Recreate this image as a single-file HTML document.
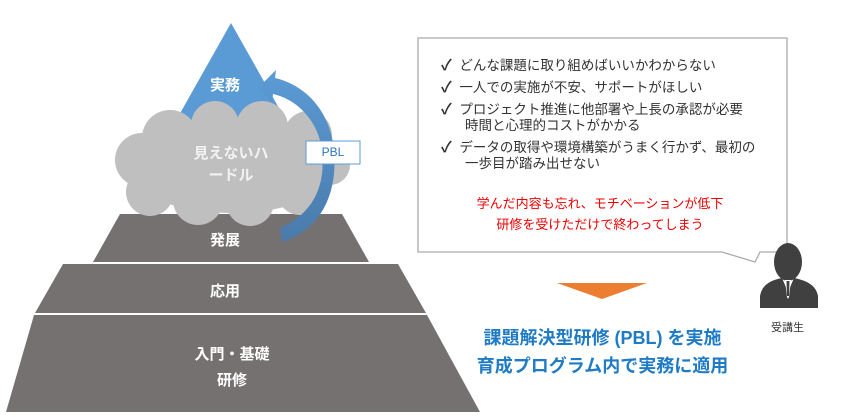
<!DOCTYPE html>
<html><head><meta charset="utf-8"><style>
body{margin:0;width:849px;height:417px;background:#fff;overflow:hidden;position:relative;font-family:"Liberation Sans","Noto Sans CJK JP",sans-serif}
.t{position:absolute;white-space:nowrap}
</style></head><body>
<svg width="849" height="417" style="position:absolute;left:0;top:0">
<defs><linearGradient id="g" x1="0" y1="0" x2="0" y2="1"><stop offset="0" stop-color="#5b9bd5"/><stop offset="1" stop-color="#4a7aab"/></linearGradient></defs>
<polygon points="231,23 165,140 297,140" fill="#5b9bd5"/>
<polygon points="120,214 342,214 369,262 93,262" fill="#767171"/>
<polygon points="63,264 398,264 426,313 35,313" fill="#767171"/>
<polygon points="34,315 427,315 480,412 6,412" fill="#767171"/>
<g fill="#bfbfbf">
<ellipse cx="232" cy="168" rx="105" ry="45"/>
<circle cx="170" cy="138" r="28"/><circle cx="215" cy="125" r="24"/><circle cx="262" cy="127" r="26"/><circle cx="308" cy="135" r="24"/>
<circle cx="142" cy="160" r="27"/><circle cx="150" cy="192" r="24"/><circle cx="198" cy="200" r="25"/><circle cx="250" cy="202" r="24"/><circle cx="300" cy="192" r="23"/><circle cx="330" cy="165" r="20"/>
</g>
<path d="M282,242 C320,230 338,195 334,150 C330,110 305,85 275,78 L276,70 L258,88 L272,102 L273,94 C300,100 320,125 322,152 C326,190 310,215 280,228 Z" fill="url(#g)"/>
<rect x="306" y="141" width="54" height="23" fill="#fff" stroke="#5b9bd5" stroke-width="1"/>
<path d="M418,38 L787,38 L787,252 L760,252 L755,262 L722,252 L418,252 Z" fill="#fff" stroke="#aaa" stroke-width="1.3"/>
<polygon points="557,283 647,283 602,299" fill="#ed7d31"/>
<ellipse cx="788" cy="262" rx="14" ry="19" fill="#404040"/>
<path d="M760,308 L760,296 C762,284 772,280 782,278 L788,292 L794,278 C804,280 816,284 818,296 L818,308 Z" fill="#404040"/>
<polygon points="785,280 791,280 789,297 788,299 787,297" fill="#fff"/>
<polygon points="786.5,281 789.5,281 789,296 787,296" fill="#404040"/>
</svg>
<div class="t" style="left:210px;top:74px;font-size:15px;font-weight:bold;color:#fff">実務</div>
<div class="t" style="left:184px;top:143px;font-size:15px;font-weight:bold;color:#f2f2f2;line-height:22px;text-align:center;width:94px;white-space:normal">見えないハ<br>ードル</div>
<div class="t" style="left:306px;top:145px;width:54px;text-align:center;font-size:12px;color:#2e75b6">PBL</div>
<div class="t" style="left:210px;top:229px;font-size:15px;font-weight:bold;color:#fff">発展</div>
<div class="t" style="left:210px;top:280px;font-size:15px;font-weight:bold;color:#fff">応用</div>
<div class="t" style="left:190px;top:342px;font-size:15px;font-weight:bold;color:#fff;width:84px;text-align:center;line-height:26px">入門・基礎<br>研修</div>
<div class="t" style="left:441px;top:58px;font-size:13.5px;color:#333;line-height:16px">
<div style="height:22px"><span style="font-size:15px;font-weight:bold">✓</span>&nbsp; どんな課題に取り組めばいいかわからない</div>
<div style="height:22px"><span style="font-size:15px;font-weight:bold">✓</span>&nbsp; 一人での実施が不安、サポートがほしい</div>
<div style="height:38px"><span style="font-size:15px;font-weight:bold">✓</span>&nbsp; プロジェクト推進に他部署や上長の承認が必要<br><span style="padding-left:24px">時間と心理的コストがかかる</span></div>
<div><span style="font-size:15px;font-weight:bold">✓</span>&nbsp; データの取得や環境構築がうまく行かず、最初の<br><span style="padding-left:24px">一歩目が踏み出せない</span></div>
</div>
<div class="t" style="left:420px;top:193px;width:360px;text-align:center;font-size:13px;color:#e00;line-height:21px">学んだ内容も忘れ、モチベーションが低下<br>研修を受けただけで終わってしまう</div>
<div class="t" style="left:460px;top:324px;width:285px;text-align:center;font-size:18px;font-weight:bold;color:#1f7bc4;line-height:28px">課題解決型研修 (PBL) を実施<br>育成プログラム内で実務に適用</div>
<div class="t" style="left:771px;top:319px;font-size:11px;color:#333">受講生</div>
</body></html>
